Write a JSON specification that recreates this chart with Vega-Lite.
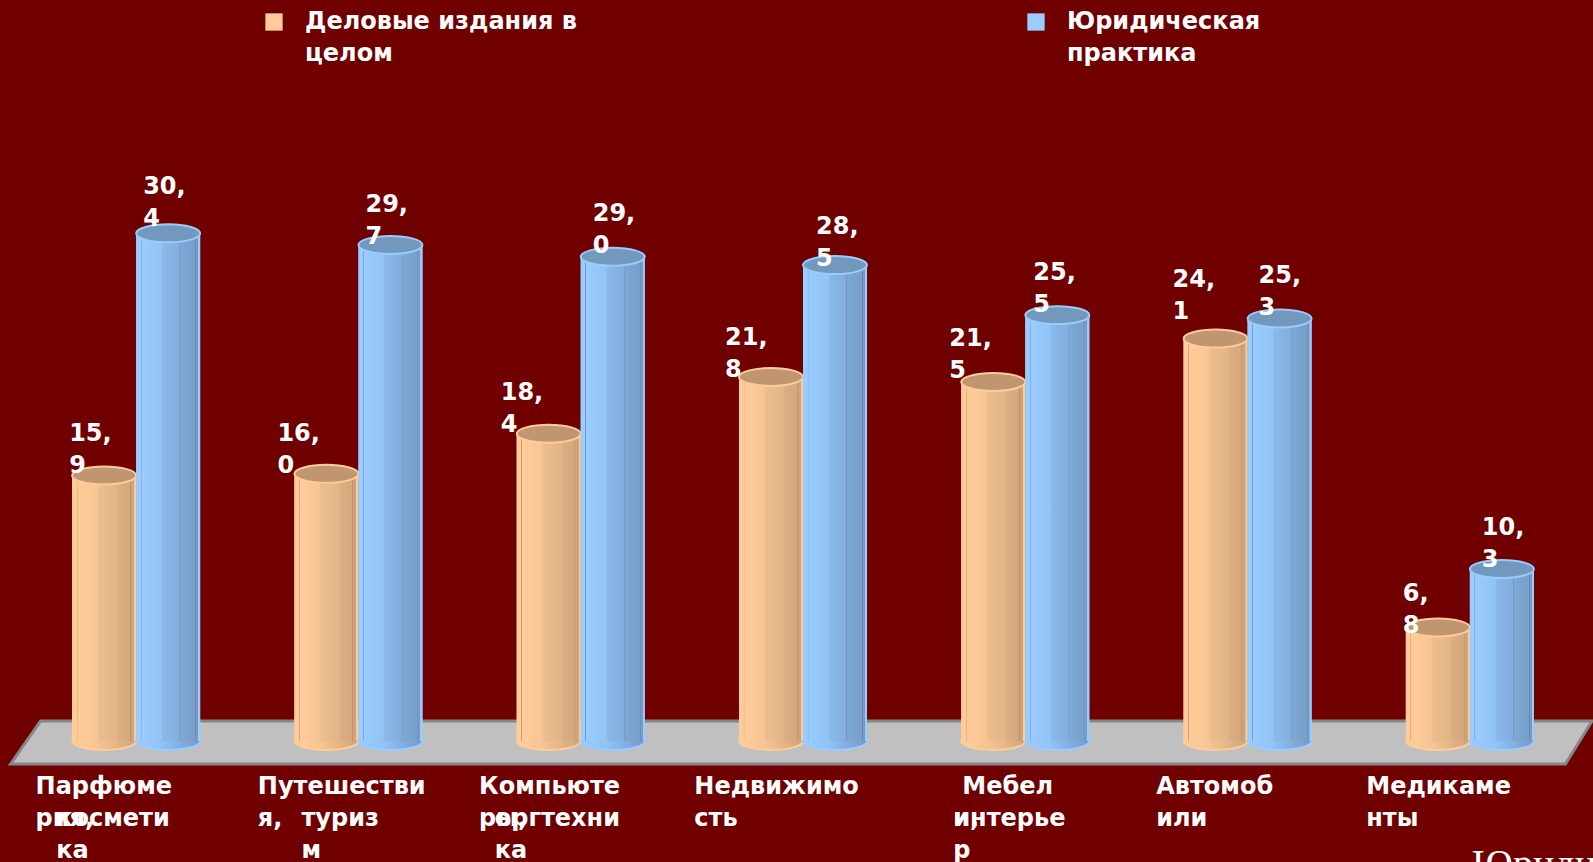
{
"$schema":"https://vega.github.io/schema/vega-lite/v6.json",
"width":1556,"height":862,
"autosize":{"type":"none"},
"padding":{"left":25,"right":12,"top":0,"bottom":0},
"background":"#700000",
"config":{"view":{"stroke":null}},
"datasets":{
"bars":[
{"category":"Парфюмерия","series":"Деловые издания в целом","value":15.9,"label":"15,\n9"},
{"category":"Парфюмерия","series":"Юридическая практика","value":30.4,"label":"30,\n4"},
{"category":"Путешествия","series":"Деловые издания в целом","value":16.0,"label":"16,\n0"},
{"category":"Путешествия","series":"Юридическая практика","value":29.7,"label":"29,\n7"},
{"category":"Компьютеры","series":"Деловые издания в целом","value":18.4,"label":"18,\n4"},
{"category":"Компьютеры","series":"Юридическая практика","value":29.0,"label":"29,\n0"},
{"category":"Недвижимость","series":"Деловые издания в целом","value":21.8,"label":"21,\n8"},
{"category":"Недвижимость","series":"Юридическая практика","value":28.5,"label":"28,\n5"},
{"category":"Мебель","series":"Деловые издания в целом","value":21.5,"label":"21,\n5"},
{"category":"Мебель","series":"Юридическая практика","value":25.5,"label":"25,\n5"},
{"category":"Автомобили","series":"Деловые издания в целом","value":24.1,"label":"24,\n1"},
{"category":"Автомобили","series":"Юридическая практика","value":25.3,"label":"25,\n3"},
{"category":"Медикаменты","series":"Деловые издания в целом","value":6.8,"label":"6,\n8"},
{"category":"Медикаменты","series":"Юридическая практика","value":10.3,"label":"10,\n3"}
],
"floor":[
{"p":-0.065,"top":-1.38,"bottom":-1.38},
{"p":0.07,"top":1.2,"bottom":-1.38},
{"p":6.93,"top":1.2,"bottom":-1.38},
{"p":7.05,"top":1.2,"bottom":1.2}
],
"cats":[
{"category":"Парфюмерия","part":"a","text":"Парфюме\nрия,"},
{"category":"Парфюмерия","part":"b","text":"\nкосмети\nка"},
{"category":"Путешествия","part":"a","text":"Путешестви\nя,"},
{"category":"Путешествия","part":"b","text":"\nтуриз\nм"},
{"category":"Компьютеры","part":"a","text":"Компьюте\nры,"},
{"category":"Компьютеры","part":"b","text":"\nоргтехни\nка"},
{"category":"Недвижимость","part":"a","text":"Недвижимо\nсть"},
{"category":"Мебель","part":"a","text":"Мебел"},
{"category":"Мебель","part":"b","text":"\nи,"},
{"category":"Мебель","part":"b","text":"\nинтерье\nр"},
{"category":"Автомобили","part":"a","text":"Автомоб\nили"},
{"category":"Медикаменты","part":"a","text":"Медикаме\nнты"}
],
"brand":[{"category":"Медикаменты","text":"Юридическая практика"}]
},
"encoding":{
"x":{"field":"category","type":"nominal","sort":null,"axis":null,"scale":{"domain":["Парфюмерия","Путешествия","Компьютеры","Недвижимость","Мебель","Автомобили","Медикаменты"],"paddingInner":0.424,"paddingOuter":0.212}}
},
"layer":[
{"data":{"name":"floor"},
"mark":{"type":"area","color":"#c0c0c0","stroke":"#868686","strokeWidth":3,"interpolate":"linear"},
"encoding":{
"x":{"field":"p","type":"quantitative","axis":null,"scale":{"domain":[0,7],"nice":false,"zero":false}},
"y":{"field":"top","type":"quantitative","axis":null,"scale":{"domain":[-7.246,44.37],"nice":false,"zero":false}},
"y2":{"field":"bottom"}}},
{"data":{"name":"bars"},"mark":{"type":"bar","strokeWidth":0},
"encoding":{
"y":{"field":"value","type":"quantitative"},
"xOffset":{"field":"series","scale":{"domain":["Деловые издания в целом","Юридическая практика"],"padding":0}},
"color":{"field":"series","type":"nominal","scale":{"domain":["Деловые издания в целом","Юридическая практика"],"range":["#ffcc99","#99ccff"]},
"legend":{"title":null,"orient":"none","legendX":237,"legendY":10,"columns":2,"columnPadding":447,"symbolType":"square","symbolSize":300,"symbolStrokeWidth":0,"symbolOpacity":1,"labelFont":"DejaVu Sans","labelFontWeight":"bold","labelFontSize":24,"labelColor":"white","labelLimit":400,"labelOffset":19,"labelExpr":"datum.label=='Деловые издания в целом'?['Деловые издания в','целом']:['Юридическая','практика']","encode":{"labels":{"update":{"lineHeight":{"value":32}}}}}}}},
{"data":{"name":"bars"},"transform":[{"filter":"datum.series=='Деловые издания в целом'"}],
"encoding":{"y":{"field":"value","type":"quantitative"},"xOffset":{"field":"series","scale":{"domain":["Деловые издания в целом","Юридическая практика"],"padding":0}}},
"layer":[
{"mark":{"type":"point","filled":true,"size":4096,"opacity":1,"shape":"M-1,0A1,0.28,0,0,0,1,0A1,0.28,0,0,0,-1,0Z","stroke":"#ffcc99","strokeWidth":2,"fill":{"gradient":"linear","x1":0,"x2":1,"y1":0,"y2":0,"stops":[{"offset":0,"color":"#ffcc99"},{"offset":0.4,"color":"#f7c594"},{"offset":0.7,"color":"#e3b587"},{"offset":1,"color":"#cfa379"}]}},
"encoding":{"y":{"datum":0}}},
{"mark":{"type":"bar","strokeWidth":0,"fill":{"gradient":"linear","x1":0,"x2":1,"y1":0,"y2":0,"stops":[{"offset":0,"color":"#ffcc99"},{"offset":0.07,"color":"#ffcc99"},{"offset":0.075,"color":"#c99a80"},{"offset":0.09,"color":"#ffcc99"},{"offset":0.4,"color":"#f7c594"},{"offset":0.41,"color":"#ecbd8e"},{"offset":0.7,"color":"#e3b587"},{"offset":0.71,"color":"#dcae83"},{"offset":0.9,"color":"#d6a87d"},{"offset":0.91,"color":"#b98a70"},{"offset":0.92,"color":"#d0a47a"},{"offset":0.965,"color":"#cfa379"},{"offset":0.97,"color":"#ffcc99"},{"offset":1,"color":"#ffcc99"}]}}},
{"mark":{"type":"point","filled":true,"size":4096,"opacity":1,"shape":"M-1,0A1,0.28,0,0,0,1,0A1,0.28,0,0,0,-1,0Z","stroke":"#ffcc99","strokeWidth":2,"fill":"#bf9670"}},
{"mark":{"type":"text","align":"left","baseline":"bottom",
"dx":{"expr":"{'Парфюмерия':-35,'Путешествия':-49,'Компьютеры':-48,'Недвижимость':-46,'Мебель':-44,'Автомобили':-43,'Медикаменты':-35}[datum.category]"},
"dy":{"expr":"{'Парфюмерия':-29,'Путешествия':-28,'Компьютеры':-29,'Недвижимость':-27,'Мебель':-31,'Автомобили':-47,'Медикаменты':-21}[datum.category]"},
"lineBreak":"\n","lineHeight":32,"font":"DejaVu Sans","fontWeight":"bold","fontSize":24,"color":"white"},
"encoding":{"text":{"field":"label"}}}
]},
{"data":{"name":"bars"},"transform":[{"filter":"datum.series=='Юридическая практика'"}],
"encoding":{"y":{"field":"value","type":"quantitative"},"xOffset":{"field":"series","scale":{"domain":["Деловые издания в целом","Юридическая практика"],"padding":0}}},
"layer":[
{"mark":{"type":"point","filled":true,"size":4096,"opacity":1,"shape":"M-1,0A1,0.28,0,0,0,1,0A1,0.28,0,0,0,-1,0Z","stroke":"#99ccff","strokeWidth":2,"fill":{"gradient":"linear","x1":0,"x2":1,"y1":0,"y2":0,"stops":[{"offset":0,"color":"#99ccff"},{"offset":0.4,"color":"#91c3f5"},{"offset":0.7,"color":"#82aee0"},{"offset":1,"color":"#739ac4"}]}},
"encoding":{"y":{"datum":0}}},
{"mark":{"type":"bar","strokeWidth":0,"fill":{"gradient":"linear","x1":0,"x2":1,"y1":0,"y2":0,"stops":[{"offset":0,"color":"#99ccff"},{"offset":0.07,"color":"#99ccff"},{"offset":0.075,"color":"#8095c0"},{"offset":0.09,"color":"#99ccff"},{"offset":0.4,"color":"#91c3f5"},{"offset":0.41,"color":"#8ab8e8"},{"offset":0.67,"color":"#82aee0"},{"offset":0.68,"color":"#7d90b8"},{"offset":0.69,"color":"#7ea9d6"},{"offset":0.92,"color":"#779fc9"},{"offset":0.93,"color":"#6b84aa"},{"offset":0.94,"color":"#779fc9"},{"offset":0.965,"color":"#739ac4"},{"offset":0.97,"color":"#99ccff"},{"offset":1,"color":"#99ccff"}]}}},
{"mark":{"type":"point","filled":true,"size":4096,"opacity":1,"shape":"M-1,0A1,0.28,0,0,0,1,0A1,0.28,0,0,0,-1,0Z","stroke":"#99ccff","strokeWidth":2,"fill":"#7398bd"}},
{"mark":{"type":"text","align":"left","baseline":"bottom",
"dx":{"expr":"{'Парфюмерия':-25,'Путешествия':-25,'Компьютеры':-20,'Недвижимость':-19,'Мебель':-24,'Автомобили':-21,'Медикаменты':-20}[datum.category]"},
"dy":{"expr":"{'Парфюмерия':-34,'Путешествия':-28,'Компьютеры':-31,'Недвижимость':-26,'Мебель':-30,'Автомобили':-30,'Медикаменты':-29}[datum.category]"},
"lineBreak":"\n","lineHeight":32,"font":"DejaVu Sans","fontWeight":"bold","fontSize":24,"color":"white"},
"encoding":{"text":{"field":"label"}}}
]},
{"data":{"name":"cats"},
"mark":{"type":"text","align":"left","baseline":"top",
"dx":{"expr":"{'Парфюмерияa':-100.6,'Парфюмерияb':-80,'Путешествияa':-100.6,'Путешествияb':-57,'Компьютерыa':-101.6,'Компьютерыb':-86,'Недвижимостьa':-108.7,'Мебельa':-63,'Мебельb':-72,'Автомобилиa':-91.4,'Медикаментыa':-103.6}[datum.category+datum.part]"},
"lineBreak":"\n","lineHeight":32,"font":"DejaVu Sans","fontWeight":"bold","fontSize":24,"color":"white"},
"encoding":{"text":{"field":"text"},"y":{"datum":-2.03}}},
{"data":{"name":"brand"},
"mark":{"type":"text","align":"left","baseline":"top","dx":2,"font":"Liberation Serif","fontSize":40,"color":"white"},
"encoding":{"text":{"field":"text"},"y":{"datum":-6.2}}}
],
"resolve":{"scale":{"x":"independent"}}
}
